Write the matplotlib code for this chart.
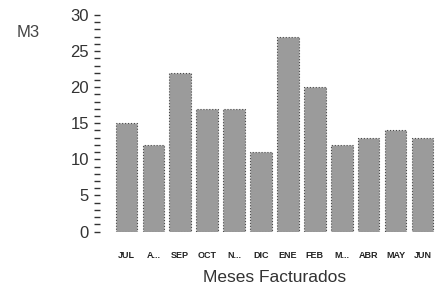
import numpy as np
import matplotlib.pyplot as plt
from matplotlib.ticker import MultipleLocator

# monthly billed volume (M3)
meses = ['JUL', 'A...', 'SEP', 'OCT', 'N...', 'DIC', 'ENE', 'FEB', 'M...', 'ABR', 'MAY', 'JUN']
m3 = [15, 12, 22, 17, 17, 11, 27, 20, 12, 13, 14, 13]

plt.rcParams['font.family'] = ['Liberation Sans', 'DejaVu Sans']

fig = plt.figure(figsize=(4.38, 2.87), dpi=100)
ax = fig.add_axes([100 / 438, 1 - 231.5 / 287, 336 / 438, 216.5 / 287])

x = np.arange(len(meses))
ax.bar(x, m3, width=0.8, color='#9b9b9b', edgecolor='#4a4a4a', linewidth=0.8, linestyle=':')

ax.set_xlim(-0.98, 11.5)
ax.set_ylim(0, 30)
ax.yaxis.set_major_locator(MultipleLocator(5))
ax.yaxis.set_minor_locator(MultipleLocator(1))
ax.tick_params(axis='y', which='both', length=4, width=1.0, color='#333', pad=4,
               labelsize=12, labelcolor='#333')
ax.set_xticks(x)
ax.set_xticklabels(meses, fontsize=6.5, fontweight='bold', color='#222')
ax.tick_params(axis='x', length=0, pad=14)

for s in ax.spines.values():
    s.set_visible(False)

fig.text(17 / 438, 1 - 33 / 287, 'M3', fontsize=12, color='#444', va='center', ha='left')
fig.text(275 / 438, 1 - 277 / 287, 'Meses Facturados', fontsize=12.5, color='#333',
         va='center', ha='center')

fig.savefig('out.png', dpi=100)
